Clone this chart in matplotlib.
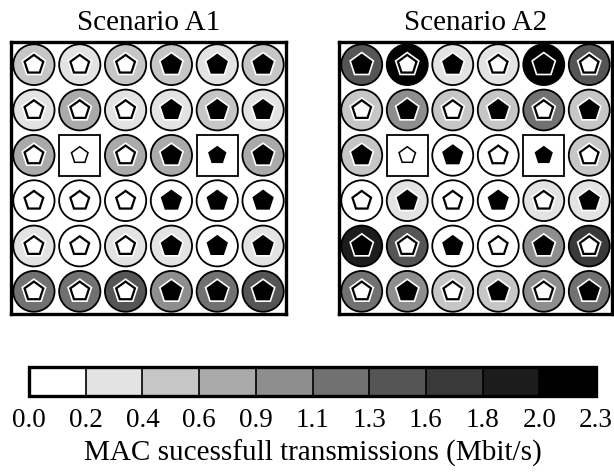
"""Grid maps of MAC throughput for two scenarios."""

import matplotlib

matplotlib.use("Agg")
import matplotlib.pyplot as plt
import numpy as np
from matplotlib.cm import ScalarMappable
from matplotlib.colors import BoundaryNorm, ListedColormap
from matplotlib.patches import Circle, Rectangle, RegularPolygon

plt.rcParams["font.family"] = ["Liberation Serif", "DejaVu Serif"]

titles = ["Scenario A1", "Scenario A2"]

# throughput per node (Mbit/s), NaN = access point
throughput_a1 = [
    [0.55, 0.3, 0.55, 0.55, 0.3, 0.55],
    [0.3, 0.8, 0.3, 0.3, 0.55, 0.3],
    [0.8, np.nan, 0.8, 0.8, np.nan, 0.8],
    [0.1, 0.1, 0.1, 0.1, 0.1, 0.1],
    [0.3, 0.1, 0.3, 0.3, 0.1, 0.3],
    [1.25, 1.25, 1.5, 1.0, 1.25, 1.5],
]
throughput_a2 = [
    [1.5, 2.2, 0.3, 0.3, 2.2, 1.5],
    [0.55, 1.0, 0.55, 0.55, 1.25, 0.55],
    [0.55, np.nan, 0.1, 0.1, np.nan, 0.55],
    [0.1, 0.3, 0.1, 0.1, 0.3, 0.3],
    [1.95, 1.5, 0.1, 0.1, 1.0, 1.7],
    [1.25, 1.0, 0.55, 0.55, 1.0, 1.25],
]

# pentagon colour per node: W = white, B = black
groups_a1 = ["WWWBBB"] * 6
groups_a2 = ["BWBWBW", "WBWBWB", "BWBWBW", "WBWBWB", "BWBWBW", "WBWBWB"]

bounds = np.linspace(0.0, 2.3, 11)
tick_labels = ["0.0", "0.2", "0.4", "0.6", "0.9", "1.1", "1.3", "1.6", "1.8", "2.0", "2.3"]
cbar_label = "MAC sucessfull transmissions (Mbit/s)"

grays = np.linspace(1.0, 0.0, 10)
cmap = ListedColormap([(g, g, g) for g in grays])
norm = BoundaryNorm(bounds, cmap.N)

W, H = 614, 477
fig = plt.figure(figsize=(W / 100, H / 100), dpi=100)


def px_axes(left, top, width, height):
    return fig.add_axes([left / W, 1 - (top + height) / H, width / W, height / H])


def draw_panel(ax, values, groups, title):
    values = np.asarray(values, dtype=float)
    n_rows, n_cols = values.shape
    # y axis is inverted, so rotate by pi to keep the pentagon point up
    up = np.pi
    for r in range(n_rows):
        for c in range(n_cols):
            x, y = c + 0.5, r + 0.5
            fill = "white" if groups[r][c] == "W" else "black"
            if np.isnan(values[r, c]):
                ax.add_patch(Rectangle((x - 0.45, y - 0.45), 0.9, 0.9, fc="white",
                                       ec="black", lw=1.3, zorder=2))
                ax.add_patch(RegularPolygon((x, y), 5, radius=0.19, orientation=up,
                                            fc=fill, ec="black", lw=1.1, zorder=4))
                continue
            ax.add_patch(Circle((x, y), 0.45, fc=cmap(norm(values[r, c])),
                                ec="black", lw=1.3, zorder=2))
            ax.add_patch(RegularPolygon((x, y), 5, radius=0.215, orientation=up,
                                        fc="none", ec="white", lw=4.0, zorder=3))
            ax.add_patch(RegularPolygon((x, y), 5, radius=0.215, orientation=up,
                                        fc=fill, ec="black", lw=1.6, zorder=4))
    ax.set_xlim(0, n_cols)
    ax.set_ylim(n_rows, 0)
    ax.set_xticks([])
    ax.set_yticks([])
    for spine in ax.spines.values():
        spine.set_linewidth(2.4)
    ax.set_title(title, fontsize=21, pad=9)


ax1 = px_axes(11, 43, 275, 272)
ax2 = px_axes(339, 43, 273, 272)
draw_panel(ax1, throughput_a1, groups_a1, titles[0])
draw_panel(ax2, throughput_a2, groups_a2, titles[1])

cax = px_axes(29, 368, 567, 29)
cbar = fig.colorbar(ScalarMappable(norm=norm, cmap=cmap), cax=cax,
                    orientation="horizontal", drawedges=True, ticks=bounds)
cbar.outline.set_linewidth(2.4)
cbar.dividers.set_linewidth(1.2)
cbar.ax.set_xticklabels(tick_labels)
cbar.ax.tick_params(length=0, pad=8, labelsize=19.5)
cbar.set_label(cbar_label, fontsize=21, labelpad=5)

fig.savefig("out.png", dpi=100)
